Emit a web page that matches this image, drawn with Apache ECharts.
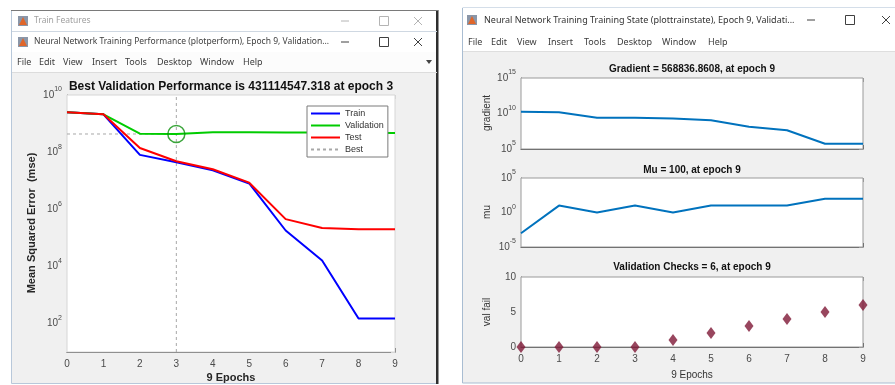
<!DOCTYPE html>
<html>
<head>
<meta charset="utf-8">
<script src="https://cdn.jsdelivr.net/npm/echarts@6/dist/echarts.min.js"></script>
<style>
  html, body { margin: 0; padding: 0; background: #ffffff; }
  #c { width: 895px; height: 385px; }
</style>
</head>
<body>
<div id="c"></div>
<script>
// ---- training record ----
const epochs = [0, 1, 2, 3, 4, 5, 6, 7, 8, 9];
const trainMse      = [2.5e9, 2.1e9, 8.0e7, 4.4e7, 2.3e7, 8.0e6, 1.8e5, 1.6e4, 150, 150];
const validationMse = [2.5e9, 2.1e9, 4.4e8, 431114547.318, 5.0e8, 5.0e8, 4.9e8, 4.9e8, 4.8e8, 4.7e8];
const testMse       = [2.5e9, 2.1e9, 1.4e8, 4.8e7, 2.5e7, 8.5e6, 4.5e5, 2.2e5, 2.0e5, 2.0e5];
const bestEpoch = 3;
const bestValidation = 431114547.318;
const gradient = [1.8e10, 1.5e10, 2.6e9, 2.5e9, 1.9e9, 1.1e9, 1.4e8, 4.3e7, 5.6e5, 568836.8608];
const mu = [0.001, 10, 1, 10, 1, 10, 10, 10, 100, 100];
const valFail = [0, 0, 0, 0, 1, 2, 3, 4, 5, 6];

// labelled decades (exponents) on the logarithmic axes
const mseDecades = [2, 4, 6, 8, 10];
const gradientDecades = [5, 10, 15];
const muDecades = [-5, 0, 5];

const legendNames = ['Train', 'Validation', 'Test', 'Best'];
const menuItems = ['File', 'Edit', 'View', 'Insert', 'Tools', 'Desktop', 'Window', 'Help'];

const perfTitle = 'Best Validation Performance is ' + bestValidation + ' at epoch ' + bestEpoch;
const gradTitle = 'Gradient = ' + gradient[9] + ', at epoch ' + epochs[9];
const muTitle = 'Mu = ' + mu[9] + ', at epoch ' + epochs[9];
const valTitle = 'Validation Checks = ' + valFail[9] + ', at epoch ' + epochs[9];

// ---- helpers ----
const FONT = '"Liberation Sans", Arial, sans-serif';
const UI = '"Noto Sans", "Liberation Sans", sans-serif';
const AX = '#4a4a4a';
const logPts = arr => arr.map((v, i) => [epochs[i], Math.log10(v)]);
const linPts = arr => arr.map((v, i) => [epochs[i], v]);

const rich = {
  b: { fontSize: 10, color: AX, fontFamily: FONT, lineHeight: 18 },
  s: { fontSize: 7, color: AX, fontFamily: FONT, verticalAlign: 'top', lineHeight: 9 }
};
const powLabel = shown => v => shown.indexOf(Math.round(v)) >= 0 ? '{b|10}{s|' + Math.round(v) + '}' : '';

function xAxes(g, showLabels, boxColor) {
  return [
    { type: 'value', gridIndex: g, position: 'bottom', min: 0, max: 9, interval: 1,
      axisLine: { show: true, onZero: false, lineStyle: { color: AX, width: 1 } },
      axisTick: { show: true, inside: true, length: 4, lineStyle: { color: AX } },
      axisLabel: { show: showLabels, margin: 7, fontSize: 10, color: AX, fontFamily: FONT },
      splitLine: { show: false } },
    { type: 'value', gridIndex: g, position: 'top', min: 0, max: 9, interval: 1,
      axisLine: { show: false, onZero: false },
      axisTick: { show: true, inside: true, length: 4, lineStyle: { color: boxColor } },
      axisLabel: { show: false }, splitLine: { show: false } }
  ];
}
function yAxes(g, min, max, interval, formatter, boxColor) {
  return [
    { type: 'value', gridIndex: g, position: 'left', min: min, max: max, interval: interval,
      axisLine: { show: true, onZero: false, lineStyle: { color: AX, width: 1 } },
      axisTick: { show: true, inside: true, length: 4, lineStyle: { color: AX } },
      axisLabel: { show: true, margin: 5, formatter: formatter, rich: rich,
                   fontSize: 10, color: AX, fontFamily: FONT },
      splitLine: { show: false } },
    { type: 'value', gridIndex: g, position: 'right', min: min, max: max, interval: interval,
      axisLine: { show: false, onZero: false },
      axisTick: { show: true, inside: true, length: 4, lineStyle: { color: boxColor } },
      axisLabel: { show: false }, splitLine: { show: false } }
  ];
}

// ---- window chrome ----
function txt(x, y, text, o) {
  o = o || {};
  return { type: 'text', x: x, y: y, rotation: o.rot || 0, z: 5,
    style: { text: text, fill: o.color || '#333', font: (o.weight || 'normal') + ' ' + (o.size || 9) + 'px ' + (o.family || UI),
             align: o.align || 'left', verticalAlign: 'middle' } };
}
function rect(x, y, w, h, fill, stroke) {
  return { type: 'rect', z: 0, shape: { x: x, y: y, width: w, height: h },
    style: { fill: fill, stroke: stroke || null, lineWidth: 1 } };
}
function hline(x1, x2, y, color) {
  return { type: 'line', z: 1, shape: { x1: x1, y1: y, x2: x2, y2: y }, style: { stroke: color, lineWidth: 1 } };
}
function controls(xMin, xMax, xClose, y, color) {
  return [
    { type: 'line', z: 5, shape: { x1: xMin - 4, y1: y, x2: xMin + 4, y2: y }, style: { stroke: color, lineWidth: 1 } },
    { type: 'rect', z: 5, shape: { x: xMax - 4.5, y: y - 4.5, width: 9, height: 9 }, style: { fill: null, stroke: color, lineWidth: 1 } },
    { type: 'line', z: 5, shape: { x1: xClose - 4, y1: y - 4, x2: xClose + 4, y2: y + 4 }, style: { stroke: color, lineWidth: 1 } },
    { type: 'line', z: 5, shape: { x1: xClose - 4, y1: y + 4, x2: xClose + 4, y2: y - 4 }, style: { stroke: color, lineWidth: 1 } }
  ];
}
function icon(x, y) {
  return [
    { type: 'rect', z: 5, shape: { x: x, y: y, width: 10, height: 10 }, style: { fill: '#8a96a8' } },
    { type: 'polygon', z: 6, shape: { points: [[x + 1, y + 9], [x + 5, y + 1], [x + 9, y + 9]] }, style: { fill: '#e0662a' } }
  ];
}
function menu(x0, y, gaps) {
  const out = [];
  let x = x0;
  menuItems.forEach((m, i) => { out.push(txt(x, y, m, { color: '#3c3c3c', size: 9 })); x += gaps[i]; });
  return out;
}

const graphics = [].concat(
  // left (performance) window
  [rect(11.5, 10.5, 426, 373, '#f0f0f0', '#b8c8da')],
  [rect(12, 11, 425, 20, '#ffffff')],
  icon(18, 16),
  [txt(34, 21, 'Train Features', { color: '#a0a0a0', size: 8.5 })],
  controls(345, 384, 418, 21, '#b4b4b4'),
  [hline(12, 437, 31.5, '#cfd8e2')],
  [rect(12, 32, 425, 20, '#ffffff')],
  icon(18, 37),
  [txt(34, 42, 'Neural Network Training Performance (plotperform), Epoch 9, Validation...', { color: '#404040', size: 8.5 })],
  controls(345, 384, 418, 42, '#404040'),
  [rect(12, 52, 425, 20, '#fcfcfc')],
  menu(17, 62, [22, 24, 29, 33, 32, 43, 43, 0]),
  [{ type: 'polygon', z: 5, shape: { points: [[426, 60], [432, 60], [429, 64]] }, style: { fill: '#444' } }],
  [hline(12, 437, 72.5, '#dcdcdc')],
  [rect(436, 10, 2.5, 374, '#2e2e2e')],
  [hline(11, 438, 10.5, '#7a7a7a')],
  // right (training state) window
  [rect(462.5, 8, 433, 375, '#f0f0f0', '#a9bdd2')],
  [rect(463, 8, 432, 24, '#ffffff')],
  icon(467, 15),
  [txt(484, 20, 'Neural Network Training Training State (plottrainstate), Epoch 9, Validati...', { color: '#333' })],
  controls(811, 850, 886, 20, '#404040'),
  [rect(463, 32, 432, 19, '#ffffff')],
  menu(468, 42, [23, 26, 31, 36, 33, 45, 46, 0]),
  [hline(463, 895, 51.5, '#dedede')],
  // plot titles and axis names
  [txt(231, 87, perfTitle, { weight: 'bold', size: 12, family: FONT, align: 'center', color: '#111' })],
  [txt(692, 69, gradTitle, { weight: 'bold', size: 10, family: FONT, align: 'center', color: '#111' })],
  [txt(692, 170, muTitle, { weight: 'bold', size: 10, family: FONT, align: 'center', color: '#111' })],
  [txt(692, 267, valTitle, { weight: 'bold', size: 10, family: FONT, align: 'center', color: '#111' })],
  [txt(32, 223, 'Mean Squared Error  (mse)', { weight: 'bold', size: 11, family: FONT, align: 'center', color: '#262626', rot: Math.PI / 2 })],
  [txt(231, 378, '9 Epochs', { weight: 'bold', size: 11, family: FONT, align: 'center', color: '#262626' })],
  [txt(487, 113, 'gradient', { size: 10, family: FONT, align: 'center', color: '#333', rot: Math.PI / 2 })],
  [txt(487, 212, 'mu', { size: 10, family: FONT, align: 'center', color: '#333', rot: Math.PI / 2 })],
  [txt(487, 312, 'val fail', { size: 10, family: FONT, align: 'center', color: '#333', rot: Math.PI / 2 })],
  [txt(692, 375, '9 Epochs', { size: 10, family: FONT, align: 'center', color: '#333' })]
);

const BOX_L = '#d6d6d6';
const BOX_R = '#9a9a9a';
const lineS = (name, data, color, xi, yi, z) => ({
  name: name, type: 'line', data: data, xAxisIndex: xi, yAxisIndex: yi, symbol: 'none',
  lineStyle: { color: color, width: 2 }, itemStyle: { color: color }, z: z || 3, silent: true, animation: false
});
const bestLog = Math.log10(bestValidation);

const option = {
  animation: false,
  graphic: { elements: graphics },
  grid: [
    { left: 67, top: 95, width: 328, height: 257, show: true, backgroundColor: '#ffffff', borderColor: BOX_L, borderWidth: 1, z: 1 },
    { left: 521, top: 78, width: 342, height: 71, show: true, backgroundColor: '#ffffff', borderColor: BOX_R, borderWidth: 1, z: 1 },
    { left: 521, top: 178, width: 342, height: 69, show: true, backgroundColor: '#ffffff', borderColor: BOX_R, borderWidth: 1, z: 1 },
    { left: 521, top: 277, width: 342, height: 70, show: true, backgroundColor: '#ffffff', borderColor: BOX_R, borderWidth: 1, z: 1 }
  ],
  xAxis: [].concat(xAxes(0, true, BOX_L), xAxes(1, false, BOX_R), xAxes(2, false, BOX_R), xAxes(3, true, BOX_R)),
  yAxis: [].concat(
    yAxes(0, 1, 10, 1, powLabel(mseDecades), BOX_L),
    yAxes(1, 5, 15, 1, powLabel(gradientDecades), BOX_R),
    yAxes(2, -5, 5, 1, powLabel(muDecades), BOX_R),
    yAxes(3, 0, 10, 5, v => String(v), BOX_R)
  ),
  legend: {
    data: legendNames, orient: 'vertical', left: 307, top: 106,
    itemWidth: 29, itemHeight: 9, itemGap: 3, padding: [3, 4, 3, 3],
    backgroundColor: '#ffffff', borderColor: '#7a7a7a', borderWidth: 1, borderRadius: 0,
    itemStyle: { opacity: 0 },
    selectedMode: false, textStyle: { fontSize: 9, color: '#333', fontFamily: FONT }, z: 10
  },
  series: [
    { name: 'Best', type: 'line', data: [[bestEpoch, 1], [bestEpoch, 10]], xAxisIndex: 0, yAxisIndex: 0, symbol: 'none',
      lineStyle: { color: '#a8a8a8', width: 1, type: [3, 3] }, itemStyle: { color: '#a8a8a8' }, z: 2 },
    { name: 'Best', type: 'line', data: [[epochs[0], bestLog], [bestEpoch, bestLog]], xAxisIndex: 0, yAxisIndex: 0, symbol: 'none',
      lineStyle: { color: '#a8a8a8', width: 1, type: [3, 3] }, itemStyle: { color: '#a8a8a8' }, z: 2 },
    lineS('Train', logPts(trainMse), '#0000ff', 0, 0, 3),
    lineS('Validation', logPts(validationMse), '#00cc00', 0, 0, 4),
    lineS('Test', logPts(testMse), '#ff0000', 0, 0, 5),
    { type: 'scatter', data: [[bestEpoch, bestLog]], xAxisIndex: 0, yAxisIndex: 0, symbol: 'circle', symbolSize: 17,
      itemStyle: { color: 'rgba(0,0,0,0)', borderColor: '#0a8f0a', borderWidth: 1.5 }, z: 6 },
    lineS('gradient', logPts(gradient), '#0072bd', 2, 2),
    lineS('mu', logPts(mu), '#0072bd', 4, 4),
    { name: 'val fail', type: 'scatter', data: linPts(valFail), xAxisIndex: 6, yAxisIndex: 6,
      symbol: 'diamond', symbolSize: [9, 12], itemStyle: { color: '#7e1836' }, z: 5 }
  ]
};

const chart = echarts.init(document.getElementById('c'));
chart.setOption(option);
</script>
</body>
</html>
